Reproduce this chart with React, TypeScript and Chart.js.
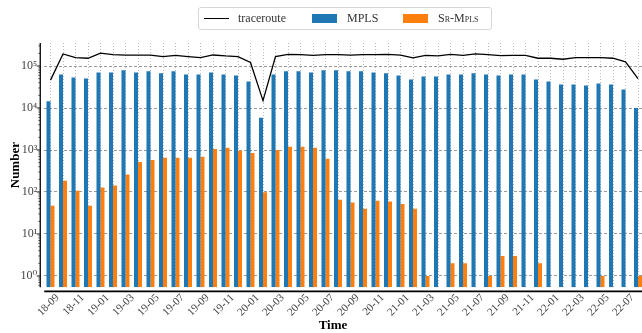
import React, { useEffect, useRef } from 'react';
import { Chart, registerables } from 'chart.js';

Chart.register(...registerables);

const months = [
  '18-09', '18-10', '18-11', '18-12',
  '19-01', '19-02', '19-03', '19-04', '19-05', '19-06', '19-07', '19-08', '19-09', '19-10', '19-11', '19-12',
  '20-01', '20-02', '20-03', '20-04', '20-05', '20-06', '20-07', '20-08', '20-09', '20-10', '20-11', '20-12',
  '21-01', '21-02', '21-03', '21-04', '21-05', '21-06', '21-07', '21-08', '21-09', '21-10', '21-11', '21-12',
  '22-01', '22-02', '22-03', '22-04', '22-05', '22-06', '22-07', '22-08',
];

const tracerouteValues = [
  46100, 194000, 159000, 153000, 202000, 187000, 182000, 182000, 182000, 168000, 180000, 168000, 159000, 183000,
  174000, 168000, 121000, 15000, 168000, 190000, 187000, 180000, 187000, 187000, 182000, 187000, 187000, 190000,
  182000, 156000, 180000, 174000, 190000, 180000, 194000, 187000, 177000, 180000, 180000, 153000, 153000, 145000,
  159000, 159000, 159000, 153000, 125000, 50000,
];

const mplsValues = [
  14500, 63000, 53500, 50700, 70000, 70000, 78700, 70000, 74600, 66800, 74600, 63000, 63000, 70000,
  63000, 59800, 43000, 5900, 63000, 74600, 74600, 70000, 78700, 78700, 74600, 74600, 70000, 66800, 59800, 48000,
  56600, 56600, 63000, 63000, 66800, 63000, 59800, 63000, 63000, 48000, 43000, 36300, 36300, 34400, 38400, 36300,
  27600, 10000,
];

const srMplsValues = [
  47, 185, 107, 47, 128, 143, 260, 520, 580, 658, 658, 658, 695, 1060,
  1130, 965, 850, 98, 1000, 1190, 1190, 1130, 620, 65, 56, 40, 62, 59, 52, 40,
  1, null, 2, 2, null, 1, 3, 3, null, 2, null, null, null, null, 1, null, null, 1,
];

const yTickValues = [1, 10, 100, 1000, 10000, 100000];
const yTickLabels = ['10\u2070', '10\u00B9', '10\u00B2', '10\u00B3', '10\u2074', '10\u2075'];

const SERIF = '"Liberation Serif", "DejaVu Serif", serif';

const spinePlugin = {
  id: 'spines',
  afterDraw(chart: any) {
    const { ctx, chartArea, scales } = chart;
    const y = scales.y;
    ctx.save();
    ctx.strokeStyle = '#000';
    const sx = chartArea.left - 4;
    ctx.lineWidth = 1.3;
    ctx.beginPath();
    ctx.moveTo(sx, chartArea.top);
    ctx.lineTo(sx, chartArea.bottom);
    ctx.stroke();
    ctx.lineWidth = 0.9;
    yTickValues.forEach((v) => {
      const py = y.getPixelForValue(v);
      ctx.beginPath();
      ctx.moveTo(sx - 3.5, py);
      ctx.lineTo(sx, py);
      ctx.stroke();
    });
    ctx.lineWidth = 0.6;
    for (let d = -1; d <= 5; d++) {
      for (let k = 2; k <= 9; k++) {
        const v = k * Math.pow(10, d);
        if (v < y.min || v > y.max) continue;
        const py = y.getPixelForValue(v);
        ctx.beginPath();
        ctx.moveTo(sx - 2, py);
        ctx.lineTo(sx, py);
        ctx.stroke();
      }
    }
    const by = chartArea.bottom + 4;
    ctx.lineWidth = 1.8;
    ctx.beginPath();
    ctx.moveTo(chartArea.left, by);
    ctx.lineTo(chart.width, by);
    ctx.stroke();
    ctx.fillStyle = '#000';
    ctx.font = 'bold 13px ' + SERIF;
    ctx.textAlign = 'center';
    ctx.textBaseline = 'middle';
    ctx.fillText('Time', 333, 326);
    ctx.restore();
  },
};

export default function App() {
  const canvasRef = useRef<HTMLCanvasElement | null>(null);

  useEffect(() => {
    if (!canvasRef.current) return;
    const chart = new Chart(canvasRef.current, {
      type: 'bar',
      data: {
        labels: months,
        datasets: [
          {
            type: 'line',
            label: 'traceroute',
            data: tracerouteValues,
            borderColor: '#000',
            backgroundColor: '#000',
            borderWidth: 1.3,
            pointRadius: 0,
            tension: 0,
          } as any,
          {
            type: 'bar',
            label: 'MPLS',
            data: mplsValues,
            backgroundColor: '#1f77b4',
            borderWidth: 0,
            categoryPercentage: 0.64,
            barPercentage: 1,
          },
          {
            type: 'bar',
            label: 'Sr-Mpls',
            data: srMplsValues,
            backgroundColor: '#ff7f0e',
            borderWidth: 0,
            categoryPercentage: 0.64,
            barPercentage: 1,
          },
        ],
      },
      options: {
        animation: false,
        responsive: true,
        maintainAspectRatio: false,
        layout: { padding: { top: 43, right: 15.75, bottom: 0, left: 0 } },
        plugins: {
          legend: { display: false },
          tooltip: { enabled: false },
        },
        scales: {
          x: {
            type: 'category',
            offset: true,
            grid: { display: true, offset: false, drawTicks: false, color: '#a8a8a8', lineWidth: 0.8 },
            border: { display: false, dash: [1, 2] },
            ticks: {
              autoSkip: false,
              maxRotation: 45,
              minRotation: 45,
              labelOffset: 7,
              padding: 4,
              color: '#444',
              font: { family: SERIF, size: 11 },
              callback: (_v: any, i: number) => (i % 2 === 0 ? months[i] : ''),
            },
            afterFit: (s: any) => {
              s.height = 45.7;
              s.paddingLeft = 0;
              s.paddingRight = 0;
            },
          },
          y: {
            type: 'logarithmic',
            min: 0.538,
            max: 353000,
            afterBuildTicks: (s: any) => {
              s.ticks = yTickValues.map((v) => ({ value: v }));
            },
            grid: { drawTicks: false, color: '#808080', lineWidth: 0.8 },
            border: { display: false, dash: [3, 2] },
            ticks: {
              padding: 7,
              color: '#444',
              font: { family: SERIF, size: 12 },
              callback: (v: any) => {
                const idx = yTickValues.indexOf(Number(v));
                return idx >= 0 ? yTickLabels[idx] : '';
              },
            },
            title: {
              display: true,
              text: 'Number',
              color: '#000',
              font: { family: SERIF, size: 13, weight: 'bold' },
              padding: { top: 8, bottom: 0 },
            },
            afterFit: (s: any) => {
              s.width = 44.25;
              s.paddingTop = 0;
              s.paddingBottom = 0;
            },
          },
        },
      },
      plugins: [spinePlugin],
    });
    return () => chart.destroy();
  }, []);

  const legendText: React.CSSProperties = {
    position: 'absolute',
    top: 0,
    height: 21,
    lineHeight: '21px',
    fontFamily: SERIF,
    fontSize: 12,
    color: '#333',
    whiteSpace: 'nowrap',
  };

  return (
    <div style={{ position: 'fixed', left: 0, top: 0, width: 642, height: 333, overflow: 'hidden', background: '#fff' }}>
      <div style={{ position: 'absolute', left: 0, top: 0, width: 660, height: 333 }}>
        <canvas ref={canvasRef} />
      </div>
      <div
        style={{
          position: 'absolute',
          left: 198,
          top: 7,
          width: 294,
          height: 23,
          boxSizing: 'border-box',
          border: '1px solid #d6d6d6',
          borderRadius: 3,
          background: 'rgba(255,255,255,0.85)',
        }}
      >
        <span style={{ position: 'absolute', left: 5, top: 9.5, width: 25, height: 0, borderTop: '1.5px solid #000' }} />
        <span style={{ ...legendText, left: 39 }}>traceroute</span>
        <span style={{ position: 'absolute', left: 113, top: 6, width: 25, height: 9, background: '#1f77b4' }} />
        <span style={{ ...legendText, left: 148 }}>MPLS</span>
        <span style={{ position: 'absolute', left: 204, top: 6, width: 25, height: 9, background: '#ff7f0e' }} />
        <span style={{ ...legendText, left: 239, fontVariant: 'small-caps' }}>Sr-Mpls</span>
      </div>
    </div>
  );
}
